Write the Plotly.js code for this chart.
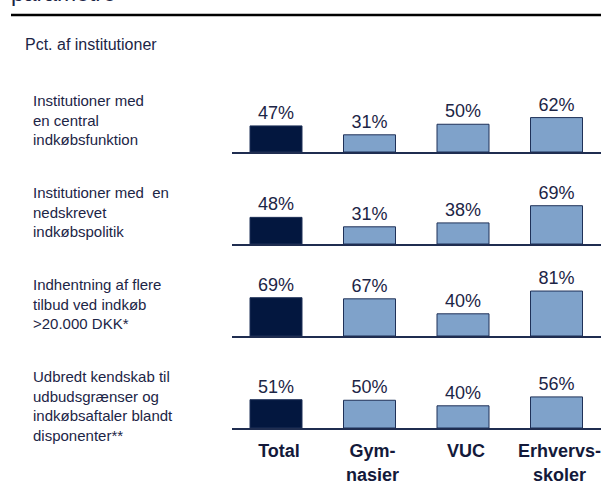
<!DOCTYPE html>
<html>
<head>
<meta charset="utf-8">
<script src="https://cdn.plot.ly/plotly-3.0.1.min.js"></script>
<style>html,body{margin:0;padding:0;background:#fff}#chart{width:601px;height:500px}</style>
</head>
<body>
<div id="chart"></div>
<script>
// ---- data ----
const categories = ["Total", "Gymnasier", "VUC", "Erhvervsskoler"];
const tickLabels = ["<b>Total</b>", "<b>Gym-</b><br><b>nasier</b>", "<b>VUC</b>", "<b>Erhvervs-</b><br><b>skoler</b>"];
const rowLabels = [
  "Institutioner med<br>en central<br>indkøbsfunktion",
  "Institutioner med  en<br>nedskrevet<br>indkøbspolitik",
  "Indhentning af flere<br>tilbud ved indkøb<br>>20.000 DKK*",
  "Udbredt kendskab til<br>udbudsgrænser og<br>indkøbsaftaler blandt<br>disponenter**"
];
const centralFunction = [47, 31, 50, 62];
const writtenPolicy = [48, 31, 38, 69];
const multipleOffers = [69, 67, 40, 81];
const knowledge = [51, 50, 40, 56];
const subtitle = "Pct. af institutioner";
const topTitle = "parametre";

const rows = [centralFunction, writtenPolicy, multipleOffers, knowledge];

// ---- layout helpers ----
const W = 601, H = 500;
const navy = "#1c2546";
const darkBar = "#03173f";
const lightBar = "#7fa2ca";
const baseline0 = 152, rowGap = 92, rowH = 70, pxPerPct = 0.555;
const xLeft = 232;
const catStep = 93.5;
const r0 = -(276 - xLeft) / catStep;
const r1 = r0 + (W - xLeft) / catStep;
const xIdx = categories.map((c, i) => i);
const tickShift = 3 / catStep;
const FONT = "Liberation Sans, Arial, sans-serif";

const traces = [];
const layout = {
  width: W, height: H,
  margin: {l: 0, r: 0, t: 0, b: 0},
  paper_bgcolor: "#fff", plot_bgcolor: "rgba(0,0,0,0)",
  showlegend: false,
  font: {family: FONT, color: navy},
  bargap: 1 - 52 / catStep,
  annotations: [],
  shapes: []
};

rows.forEach((vals, k) => {
  const n = k === 0 ? "" : String(k + 1);
  const b = baseline0 + rowGap * k;
  traces.push({
    type: "bar",
    x: xIdx, y: vals,
    xaxis: "x" + n, yaxis: "y" + n,
    marker: {color: vals.map((v, i) => i === 0 ? darkBar : lightBar), line: {color: "#1f3158", width: 1}},
    texttemplate: "%{y}%", textposition: "outside", cliponaxis: false,
    textfont: {size: 18, color: navy, family: FONT},
    hoverinfo: "skip"
  });
  layout["xaxis" + n] = {
    domain: [xLeft / W, 1], range: [r0, r1], anchor: "y" + n,
    showline: true, linecolor: "#1f2d50", linewidth: 1.5,
    showgrid: false, zeroline: false, ticks: "",
    tickmode: "array", tickvals: xIdx.map(i => i + tickShift),
    ticktext: k === rows.length - 1 ? tickLabels : categories.map(() => ""),
    showticklabels: k === rows.length - 1,
    ticklabeloverflow: "allow",
    tickfont: {size: 18, color: "#13193a", family: FONT},
    ticklabelstandoff: 6
  };
  layout["yaxis" + n] = {
    domain: [1 - b / H, 1 - (b - rowH) / H], range: [0, rowH / pxPerPct],
    anchor: "x" + n, visible: false, showgrid: false, zeroline: false
  };
  layout.annotations.push({
    xref: "paper", yref: "paper", x: 31 / W, y: 1 - (b - 62) / H,
    xanchor: "left", yanchor: "top", align: "left", showarrow: false,
    text: rowLabels[k], font: {size: 15, color: navy}
  });
});

layout.annotations.push({
  xref: "paper", yref: "paper", x: 23 / W, y: 1 - 45 / H,
  xanchor: "left", yanchor: "middle", showarrow: false,
  text: subtitle, font: {size: 16, color: navy}
});
layout.annotations.push({
  xref: "paper", yref: "paper", x: 9 / W, y: 1 - 7.5 / H,
  xanchor: "left", yanchor: "bottom", showarrow: false,
  text: topTitle, font: {size: 23, color: navy}
});
layout.shapes.push({
  type: "line", xref: "paper", yref: "paper",
  x0: 11 / W, x1: 1, y0: 1 - 15 / H, y1: 1 - 15 / H,
  line: {color: "#000", width: 2.5}
});

Plotly.newPlot("chart", traces, layout, {displayModeBar: false, staticPlot: true});
</script>
</body>
</html>
